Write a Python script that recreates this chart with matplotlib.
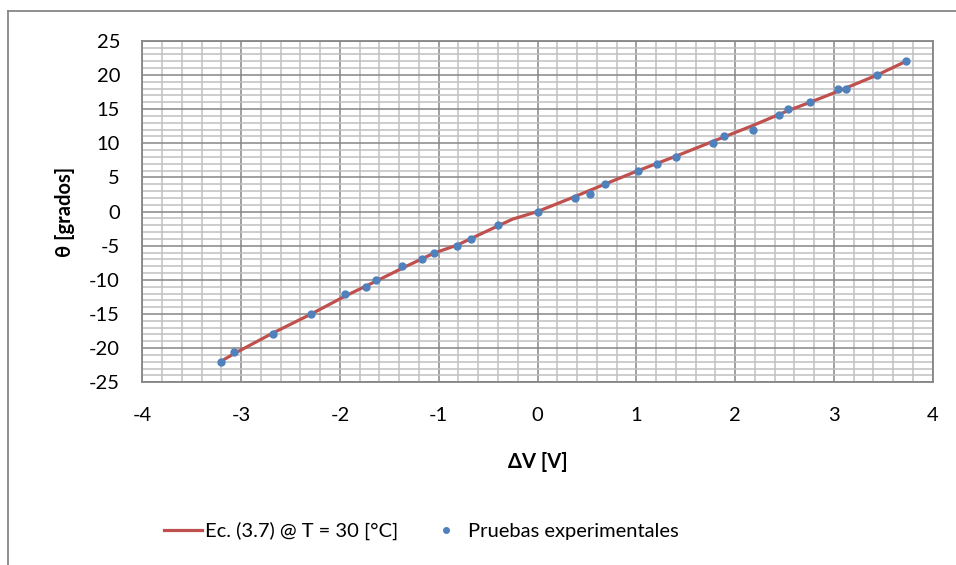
import matplotlib
matplotlib.use("Agg")
import matplotlib.pyplot as plt
from matplotlib.ticker import MultipleLocator
from matplotlib.lines import Line2D

plt.rcParams['font.family'] = ['Lato', 'DejaVu Sans']
plt.rcParams['axes.unicode_minus'] = False

# mediciones experimentales: ΔV [V] y ángulo [grados]
dv_exp = [-3.20, -3.07, -2.68, -2.29, -1.95, -1.74, -1.63, -1.37, -1.165, -1.046,
          -0.81, -0.677, -0.397, 0.0, 0.38, 0.53, 0.68, 1.02, 1.21, 1.40,
          1.78, 1.89, 2.18, 2.44, 2.535, 2.755, 3.04, 3.125, 3.44, 3.73]
theta_exp = [-22, -20.5, -18, -15, -12, -11, -10, -8, -7, -6,
             -5, -4, -2, 0, 2, 2.6, 4, 6, 7, 8,
             10, 11, 12, 14.2, 15, 16, 18, 18, 20, 22]

# curva de la ecuación (3.7) a 30 °C
dv_ec = [-3.20, -3.07, -2.68, -2.29, -1.95, -1.62, -1.37, -1.05, -0.81, -0.68,
         -0.40, -0.25, 0.0, 0.38, 0.68, 1.02, 1.40, 1.78, 2.18, 2.54,
         2.76, 3.04, 3.44, 3.73]
theta_ec = [-21.9, -20.8, -17.8, -15.0, -12.4, -10.1, -8.3, -6.1, -4.9, -4.0,
            -2.1, -1.1, 0.0, 2.2, 4.0, 6.0, 8.1, 10.3, 12.6, 14.8,
            16.0, 17.6, 20.0, 22.0]

red = '#C0504D'
blue = '#4F81BD'
gris = '#868686'
fs = 14.5

fig = plt.figure(figsize=(9.56, 5.65), dpi=100)
ax = fig.add_axes([142.3 / 956, 1 - 382.3 / 565, (932.7 - 142.3) / 956, (382.3 - 40.8) / 565])

ax.set_xlim(-4, 4)
ax.set_ylim(-25, 25)
ax.xaxis.set_major_locator(MultipleLocator(1))
ax.xaxis.set_minor_locator(MultipleLocator(0.2))
ax.yaxis.set_major_locator(MultipleLocator(5))
ax.yaxis.set_minor_locator(MultipleLocator(1))

ax.grid(which='minor', color='#C0C0C0', linewidth=1.1)
ax.grid(which='major', color=gris, linewidth=1.1)
ax.set_axisbelow(True)
for s in ax.spines.values():
    s.set_color(gris)
    s.set_linewidth(1.3)

ax.tick_params(which='both', length=0)
ax.tick_params(axis='x', pad=18, labelsize=fs)
ax.tick_params(axis='y', pad=16, labelsize=fs)

ax.plot(dv_ec, theta_ec, color=red, linewidth=2.3, zorder=3)
ax.plot(dv_exp, theta_exp, 'o', color=blue, markersize=5, zorder=4)

ax.set_xlabel('ΔV [V]', fontsize=fs, fontweight='bold', labelpad=20)
ax.set_ylabel('θ [grados]', fontsize=fs, fontweight='bold', labelpad=10)

handles = [Line2D([], [], color=red, linewidth=2.3),
           Line2D([], [], marker='o', color=blue, linestyle='none', markersize=4)]
fig.legend(handles, ['Ec. (3.7) @ T = 30 [°C]', 'Pruebas experimentales'],
           loc='center', bbox_to_anchor=(0.441, 1 - 531 / 565), ncol=2, frameon=False,
           fontsize=fs, handlelength=1.9, handletextpad=0.15, columnspacing=1.4)

# marco exterior del gráfico
fig.add_artist(Line2D([8 / 956, 8 / 956], [0, 1 - 11 / 565], transform=fig.transFigure,
                      color=gris, linewidth=1.3))
fig.add_artist(Line2D([8 / 956, 1], [1 - 11 / 565, 1 - 11 / 565], transform=fig.transFigure,
                      color=gris, linewidth=1.3))

fig.savefig('out.png', dpi=100)
